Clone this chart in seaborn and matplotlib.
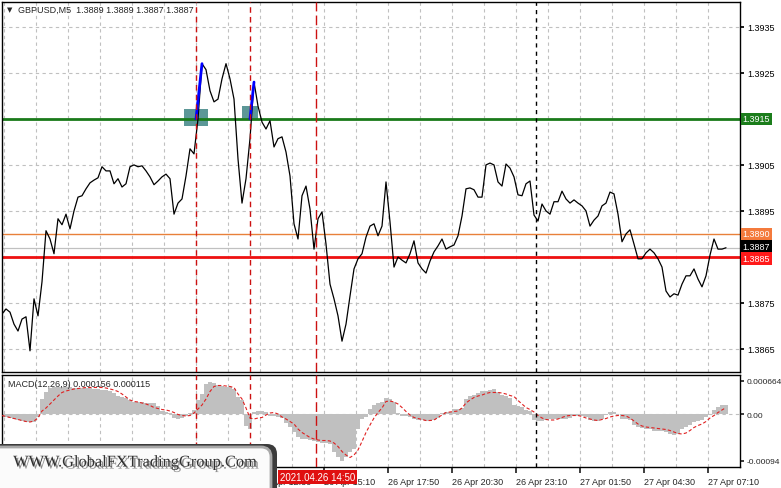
import numpy as np
import pandas as pd
import seaborn as sns
import matplotlib.pyplot as plt
import matplotlib.patheffects as pe
from matplotlib.patches import Rectangle, FancyBboxPatch

sns.set_theme(style="white")
plt.rcParams['font.family'] = ['Liberation Sans', 'DejaVu Sans']

# GBPUSD M5 closes, every second bar (10 min), from 26 Apr 01:45
start = pd.Timestamp('2021-04-26 01:45')
close = [
    1.38726, 1.38737, 1.38730, 1.38704, 1.38689, 1.38715, 1.38720, 1.38646, 1.38759, 1.38722,
    1.38796, 1.38907, 1.38889, 1.38857, 1.38933, 1.38920, 1.38943, 1.38911, 1.38950, 1.38980,
    1.38983, 1.38998, 1.39011, 1.39017, 1.39022, 1.39046, 1.39037, 1.39037, 1.39009, 1.39020,
    1.39002, 1.39009, 1.39046, 1.39050, 1.39046, 1.39048, 1.39037, 1.39024, 1.39007, 1.39015,
    1.39024, 1.39030, 1.39020, 1.38943, 1.38967, 1.38976, 1.39026, 1.39085, 1.39074, 1.39150,
    1.39270, 1.39257, 1.39211, 1.39187, 1.39193, 1.39237, 1.39270, 1.39237, 1.39193, 1.39063,
    1.38967, 1.39020, 1.39107, 1.39230, 1.39178, 1.39143, 1.39128, 1.39146, 1.39089, 1.39107,
    1.39111, 1.39078, 1.39026, 1.38922, 1.38889, 1.38983, 1.39004, 1.38954, 1.38867, 1.38933,
    1.38948, 1.38878, 1.38791, 1.38759, 1.38722, 1.38667, 1.38704, 1.38765, 1.38824, 1.38846,
    1.38857, 1.38893, 1.38917, 1.38922, 1.38896, 1.38917, 1.39013, 1.38926, 1.38828, 1.38850,
    1.38843, 1.38837, 1.38857, 1.38885, 1.38837, 1.38824, 1.38815, 1.38841, 1.38861, 1.38874,
    1.38889, 1.38867, 1.38872, 1.38876, 1.38896, 1.38939, 1.38998, 1.39000, 1.38996, 1.38980,
    1.38980, 1.39050, 1.39054, 1.39050, 1.39013, 1.39004, 1.39052, 1.39043, 1.39024, 1.38985,
    1.38983, 1.39009, 1.39015, 1.38941, 1.38928, 1.38965, 1.38950, 1.38943, 1.38970, 1.38970,
    1.38993, 1.38976, 1.38967, 1.38974, 1.38967, 1.38961, 1.38950, 1.38917, 1.38930, 1.38939,
    1.38961, 1.38967, 1.38991, 1.38987, 1.38943, 1.38883, 1.38900, 1.38909, 1.38878, 1.38846,
    1.38846, 1.38859, 1.38867, 1.38859, 1.38846, 1.38828, 1.38776, 1.38763, 1.38770, 1.38767,
    1.38791, 1.38809, 1.38809, 1.38824, 1.38802, 1.38785, 1.38809, 1.38854, 1.38889, 1.38867,
    1.38867, 1.38870,
]
# MACD main (histogram) and signal, in units of 1e-5
macd_hist_e5 = [
    -5, -6, -8, -10, -12, -14, -16, -16, -15, -5,
    30, 44, 52, 54, 55, 55, 54, 54, 53, 53,
    52, 53, 52, 51, 50, 49, 48, 46, 42, 36,
    34, 32, 28, 25, 24, 24, 23, 23, 22, 16,
    6, 4, 2, -8, -10, -8, -4, 3, 8, 28,
    40, 60, 64, 62, 58, 56, 55, 54, 50, 35,
    28, -24, -30, 5, 6, 6, 4, -3, -4, -6,
    -8, -18, -25, -35, -45, -50, -50, -52, -54, -56,
    -57, -58, -60, -75, -85, -93, -85, -75, -70, -30,
    -10, -5, 10, 18, 22, 25, 33, 30, 24, 2,
    -3, -4, -5, -10, -11, -12, -13, -13, -12, -8,
    3, 4, 5, 10, 10, 12, 30, 36, 38, 42,
    46, 47, 48, 50, 45, 38, 36, 32, 18, 16,
    14, 8, 6, -12, -13, -13, -12, -10, -10, -10,
    -9, -9, -8, -4, -3, -3, -5, -12, -14, -13,
    -10, -2, 4, 5, 0, -10, -10, -12, -22, -26,
    -28, -30, -30, -33, -33, -34, -36, -40, -42, -40,
    -30, -26, -22, -15, -13, -11, -6, -2, 8, 14,
    18, 18,
]
macd_signal_e5 = [
    -3, -5, -7, -9, -11, -13, -15, -16, -14, -8,
    6, 12, 20, 28, 36, 43, 46, 48, 50, 51, 52,
    53, 53, 53, 53, 53, 52, 50, 48, 45, 40, 34,
    28, 25, 24, 22, 20, 17, 13, 11, 9, 8, 6,
    3, -1, -3, -4, -3, 2, 10, 18,
    30, 45, 55, 57, 57, 56, 55, 53, 40, 30,
    12, -8, -10, -8, -7, -2, 2, 3, 0, -6,
    -10, -15, -20, -30, -37, -42, -47, -50, -52, -53,
    -53, -54, -58, -65, -75, -82, -87, -82, -72, -55,
    -37, -22, -8, 3, 12, 25, 26, 24, 20, 13,
    5, -2, -7, -9, -11, -13, -13, -12, -7, -2,
    3, 4, 5, 6, 12, 22, 28, 33, 36, 38,
    41, 43, 43, 43, 42, 40, 37, 35, 27, 20,
    13, 9, 4, -3, -8, -11, -12, -12, -10, -7,
    -4, -3, -3, -3, -5, -8, -10, -12, -13, -11,
    -9, -6, -4, -3, -3, -4, -8, -14, -20, -24,
    -26, -27, -28, -29, -30, -31, -33, -36, -39, -40,
    -38, -33, -27, -23, -20, -15, -8, -3, 3, 8, 13,
]

price_ticks = [1.3865, 1.3875, 1.3885, 1.3895, 1.3905, 1.3915, 1.3925, 1.3935]
shown_ticks = [1.3865, 1.3875, 1.3895, 1.3905, 1.3925, 1.3935]
level_green, level_orange, level_red, last_price = 1.3915, 1.3890, 1.3885, 1.3887
macd_ticks = [-0.00094, 0.0, 0.000664]
macd_tick_labels = ['-0.00094', '0.00', '0.000664']

signal_times = ['2021-04-26 09:50', '2021-04-26 12:05']
entry_time = '2021-04-26 14:50'
day_break = '2021-04-27 00:00'
blue_moves = [('2021-04-26 09:50', 1.3915, '2021-04-26 10:05', 1.3927),
              ('2021-04-26 12:05', 1.3915, '2021-04-26 12:15', 1.3923)]
zones = [('2021-04-26 09:20', '2021-04-26 10:20', 1.39135, 1.39172),
         ('2021-04-26 11:45', '2021-04-26 12:25', 1.39150, 1.39177)]

times = pd.date_range(start, periods=len(close), freq='10min')
df = pd.DataFrame({'time': times, 'close': close,
                   'hist': np.array(macd_hist_e5) * 1e-5,
                   'signal': np.array(macd_signal_e5) * 1e-5})

W, H = 781, 489
fig = plt.figure(figsize=(W / 100, H / 100), dpi=100)
fig.patch.set_facecolor('white')
ax = fig.add_axes([2 / W, 1 - 373 / H, 738 / W, 370 / H])
axm = fig.add_axes([2 / W, 1 - 468 / H, 738 / W, 92 / H])

x0 = start
x1 = start + pd.Timedelta(minutes=1845)
label_times = pd.date_range('2021-04-26 01:50', periods=12, freq='160min')
grid_times = pd.date_range('2021-04-26 01:50', periods=23, freq='80min')
grid_kw = dict(color='#c0c0c0', lw=0.8, ls=(0, (3, 3)))

# ---- price window
for t in grid_times:
    ax.axvline(t, zorder=0, **grid_kw)
    axm.axvline(t, zorder=0, **grid_kw)
for p in price_ticks:
    ax.axhline(p, zorder=0, **grid_kw)

for a, b, lo, hi in zones:
    ta, tb = pd.Timestamp(a), pd.Timestamp(b)
    ax.add_patch(Rectangle((ta, lo), tb - ta, hi - lo, color='#4a8c8c', alpha=0.9, zorder=1, lw=0))

ax.axhline(last_price, color='#c0c0c0', lw=0.9, zorder=2)
ax.axhline(level_orange, color='#e8803a', lw=1.0, zorder=2)
ax.axhline(level_red, color='#ee1111', lw=2.0, zorder=2)
ax.axhline(level_green, color='#1a7a1a', lw=2.0, zorder=2)

sns.lineplot(data=df, x='time', y='close', ax=ax, color='black', lw=0.9, zorder=3)
for a, pa, b, pb in blue_moves:
    ax.plot([pd.Timestamp(a), pd.Timestamp(b)], [pa, pb], color='#0000ff', lw=2, zorder=4)

for a in (ax, axm):
    for t in signal_times:
        a.axvline(pd.Timestamp(t), color='#cc1111', lw=1, ls=(0, (4, 3)), zorder=5)
    a.axvline(pd.Timestamp(entry_time), color='#cc1111', lw=1, ls=(0, (7, 3)), zorder=5)
    a.axvline(pd.Timestamp(day_break), color='black', lw=1, ls=(0, (3, 3)), zorder=5)
    a.set_xlim(x0, x1)
    for s in a.spines.values():
        s.set_color('black')
        s.set_linewidth(1)

ax.set_ylim(1.3860, 1.39404)
ax.yaxis.tick_right()
ax.set_yticks(shown_ticks)
ax.set_yticklabels([f'{p:.4f}' for p in shown_ticks])
ax.tick_params(axis='y', length=3, pad=2, labelsize=6.5, colors='black', direction='out')
ax.set_xticks([])
ax.set_xlabel('')
ax.set_ylabel('')

for p, txt, col in [(level_green, '1.3915', '#1b7d1b'), (level_orange, '1.3890', '#f47a3c'),
                    (last_price, '1.3887', 'black'), (level_red, '1.3885', '#ff1a1a')]:
    yoff = {1.3887: 0.00003, 1.3885: -0.00004}.get(p, 0)
    ax.text(1.0035, p + yoff, txt, transform=ax.get_yaxis_transform(), ha='left', va='center',
            fontsize=6.5, color='white', clip_on=False, zorder=10,
            bbox=dict(boxstyle='square,pad=0.2', fc=col, ec='none'))

# ---- MACD window
axm.bar(df['time'], df['hist'], width=10 / 1440, color='#c0c0c0', lw=0, zorder=1)
axm.axhline(0, zorder=0, **grid_kw)
sns.lineplot(data=df, x='time', y='signal', ax=axm, color='#e02020', lw=0.8,
             ls=(0, (3, 2)), zorder=3)
axm.set_ylim(-0.00106, 0.00078)
axm.yaxis.tick_right()
axm.set_yticks(macd_ticks)
axm.set_yticklabels(macd_tick_labels)
axm.tick_params(axis='y', length=3, pad=1.5, labelsize=6.0, direction='out')
axm.set_xticks(label_times)
axm.set_xticklabels([t.strftime('%d %b %H:%M') for t in label_times], ha='left')
axm.tick_params(axis='x', length=4, pad=3, labelsize=6.5, direction='out', bottom=True)
axm.set_xlabel('')
axm.set_ylabel('')

# ---- texts
fig.text(7 / W, 1 - 10 / H, '\u25bc', fontsize=5, va='center', ha='left', family='DejaVu Sans')
fig.text(18 / W, 1 - 10 / H, 'GBPUSD,M5  1.3889 1.3889 1.3887 1.3887', fontsize=6.5, va='center')
fig.text(8 / W, 1 - 385 / H, 'MACD(12,26,9) 0.000156 0.000115', fontsize=6.5, va='center')
fig.text(280 / W, 1 - 478 / H, '2021.04.26 14:50', fontsize=7, va='center', ha='left',
         color='white', bbox=dict(boxstyle='square,pad=0.22', fc='#e01010', ec='none'), zorder=20)

# watermark
shadow = FancyBboxPatch((-0.2, -0.2), 2.97, 0.64, boxstyle='round,pad=0,rounding_size=0.1',
                        transform=fig.dpi_scale_trans, fc='#3c3c3c', ec='none', zorder=18)
box = FancyBboxPatch((-0.2, -0.2), 2.91, 0.61, boxstyle='round,pad=0,rounding_size=0.1',
                     transform=fig.dpi_scale_trans, fc='#fbfbfb', ec='#a8a8a8', lw=2, zorder=19)
fig.patches.extend([shadow, box])
fig.text(1.35 / (W / 100), 0.255 / (H / 100), 'WWW.GlobalFXTradingGroup.Com', fontsize=11.8,
         family='Liberation Serif', color='#303030', ha='center', va='center', zorder=21,
         path_effects=[pe.withSimplePatchShadow(offset=(1.5, -1.5), shadow_rgbFace='#777777', alpha=0.8)])

fig.savefig('out.png', dpi=100)
